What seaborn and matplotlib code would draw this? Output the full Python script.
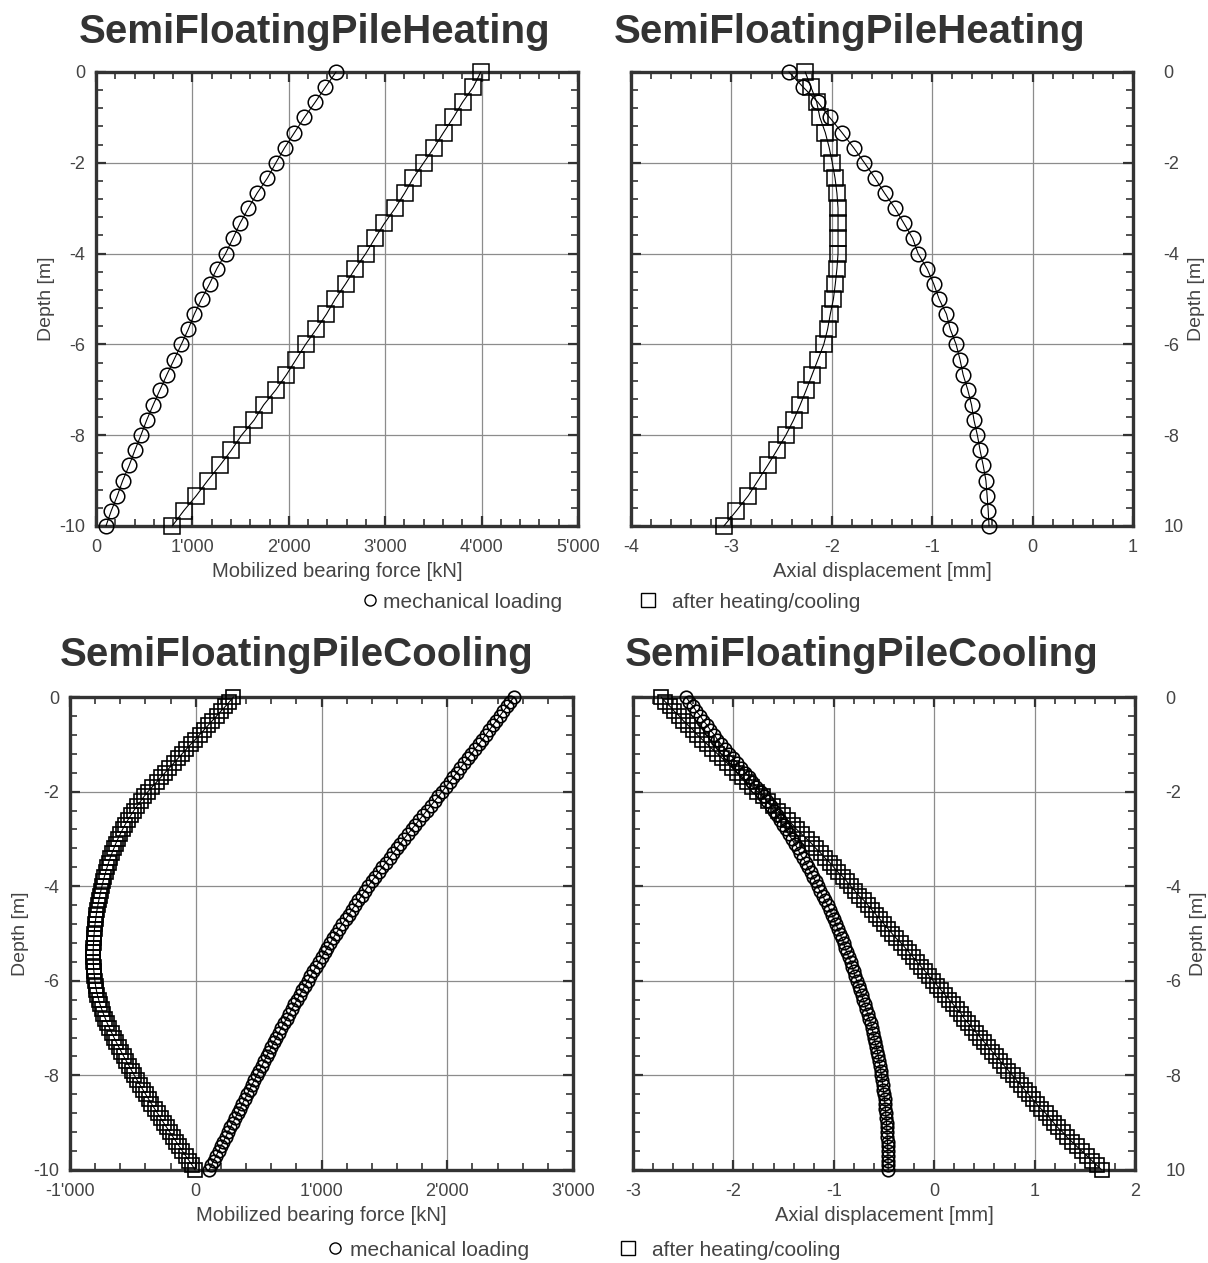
import numpy as np
import matplotlib
matplotlib.use("Agg")
import matplotlib.pyplot as plt
import seaborn as sns
from matplotlib.lines import Line2D
from matplotlib.ticker import MultipleLocator, FuncFormatter, FixedLocator, FixedFormatter

sns.set_style("white")
plt.rcParams['font.family'] = ['Liberation Sans', 'DejaVu Sans']
plt.rcParams['axes.unicode_minus'] = False

# ---- data -------------------------------------------------------------
depth_coarse = np.linspace(0, -10, 31)
depth_fine = np.linspace(0, -10, 101)

heat_force_mech = [2490, 2380, 2273, 2162, 2059, 1957, 1866, 1779, 1672, 1581, 1494,
                   1420, 1344, 1253, 1178, 1095, 1020, 957, 885, 810, 735,
                   664, 593, 526, 466, 403, 344, 277, 221, 158, 103]
heat_force_after = [3992, 3913, 3802, 3708, 3605, 3506, 3399, 3292, 3202, 3103, 2992,
                    2893, 2798, 2688, 2589, 2482, 2391, 2285, 2174, 2075, 1976,
                    1866, 1739, 1640, 1510, 1403, 1285, 1158, 1040, 909, 791]
heat_disp_mech = [-2.427, -2.285, -2.138, -2.022, -1.899, -1.783, -1.675, -1.571, -1.475, -1.371, -1.282,
                  -1.194, -1.140, -1.051, -0.985, -0.931, -0.858, -0.820, -0.762, -0.723, -0.692,
                  -0.646, -0.608, -0.584, -0.550, -0.523, -0.492, -0.465, -0.453, -0.442, -0.434]
heat_disp_after = [-2.265, -2.207, -2.150, -2.119, -2.065, -2.026, -1.995, -1.968, -1.949, -1.938, -1.938,
                   -1.938, -1.938, -1.949, -1.965, -1.984, -2.015, -2.042, -2.080, -2.138, -2.196,
                   -2.254, -2.315, -2.381, -2.458, -2.547, -2.639, -2.736, -2.832, -2.951, -3.075]

cool_force_mech = [2530, 2502, 2474, 2446, 2418, 2390, 2362, 2334, 2306, 2278,
                   2250, 2221, 2192, 2163, 2134, 2105, 2076, 2047, 2018, 1989,
                   1960, 1930, 1899, 1869, 1838, 1808, 1777, 1747, 1716, 1686,
                   1655, 1626, 1598, 1569, 1541, 1512, 1484, 1455, 1427, 1398,
                   1370, 1344, 1319, 1293, 1268, 1242, 1217, 1191, 1166, 1140,
                   1115, 1092, 1070, 1047, 1025, 1002, 980, 957, 935, 912,
                   890, 869, 848, 827, 806, 785, 764, 743, 722, 701,
                   680, 660, 641, 621, 602, 582, 563, 543, 524, 504,
                   485, 466, 447, 428, 409, 390, 371, 352, 333, 314,
                   295, 276, 257, 238, 219, 200, 181, 162, 143, 124, 105]
cool_force_after = [300, 268, 235, 200, 166, 132, 98, 64, 30, -4,
                    -40, -74, -108, -142, -176, -210, -244, -278, -312, -346,
                    -380, -410, -438, -466, -492, -516, -540, -562, -582, -601,
                    -619, -636, -651, -666, -680, -693, -705, -716, -727, -737,
                    -746, -755, -763, -771, -778, -785, -791, -796, -801, -805,
                    -808, -811, -813, -815, -816, -816, -815, -813, -810, -806,
                    -802, -797, -790, -782, -772, -761, -748, -734, -719, -703,
                    -686, -668, -650, -631, -612, -592, -572, -551, -530, -509,
                    -488, -466, -444, -421, -398, -375, -352, -328, -304, -280,
                    -256, -231, -206, -181, -156, -131, -106, -80, -54, -28, -5]
cool_disp_mech = [-2.47, -2.44, -2.40, -2.37, -2.33, -2.30, -2.26, -2.23, -2.19, -2.16,
                  -2.12, -2.08, -2.04, -2.00, -1.96, -1.92, -1.88, -1.84, -1.81, -1.77,
                  -1.73, -1.70, -1.67, -1.63, -1.60, -1.57, -1.54, -1.51, -1.48, -1.45,
                  -1.42, -1.39, -1.36, -1.34, -1.31, -1.28, -1.26, -1.23, -1.21, -1.18,
                  -1.16, -1.14, -1.11, -1.09, -1.06, -1.04, -1.02, -1.00, -0.98, -0.96,
                  -0.94, -0.92, -0.90, -0.89, -0.87, -0.85, -0.83, -0.82, -0.80, -0.79,
                  -0.77, -0.75, -0.74, -0.72, -0.71, -0.69, -0.68, -0.66, -0.65, -0.63,
                  -0.62, -0.61, -0.60, -0.59, -0.575, -0.565, -0.557, -0.549, -0.541, -0.533,
                  -0.525, -0.519, -0.513, -0.507, -0.501, -0.495, -0.491, -0.487, -0.483, -0.479,
                  -0.475, -0.473, -0.470, -0.468, -0.465, -0.463, -0.462, -0.461, -0.460, -0.459, -0.458]
cool_disp_after = [-2.72, -2.68, -2.63, -2.59, -2.54, -2.50, -2.45, -2.40, -2.36, -2.31,
                   -2.26, -2.21, -2.16, -2.11, -2.06, -2.01, -1.96, -1.91, -1.86, -1.81,
                   -1.76, -1.71, -1.66, -1.61, -1.56, -1.51, -1.46, -1.41, -1.37, -1.32,
                   -1.27, -1.22, -1.18, -1.13, -1.09, -1.04, -1.00, -0.96, -0.91, -0.87,
                   -0.83, -0.79, -0.75, -0.70, -0.66, -0.62, -0.58, -0.54, -0.50, -0.46,
                   -0.42, -0.38, -0.33, -0.29, -0.25, -0.21, -0.17, -0.13, -0.09, -0.05,
                   -0.01, 0.03, 0.07, 0.11, 0.15, 0.19, 0.23, 0.27, 0.30, 0.34,
                   0.38, 0.42, 0.46, 0.50, 0.54, 0.58, 0.62, 0.66, 0.70, 0.74,
                   0.78, 0.82, 0.86, 0.90, 0.94, 0.98, 1.02, 1.06, 1.11, 1.15,
                   1.19, 1.23, 1.28, 1.32, 1.37, 1.42, 1.47, 1.52, 1.57, 1.62, 1.67]

titles = ["SemiFloatingPileHeating", "SemiFloatingPileHeating",
          "SemiFloatingPileCooling", "SemiFloatingPileCooling"]
right_ylabels = ['0', '-2', '-4', '-6', '-8', '10']
legend_labels = ['mechanical loading', 'after heating/cooling']

# ---- figure -----------------------------------------------------------
W, H = 1208, 1263
fig = plt.figure(figsize=(W / 100, H / 100), dpi=100)
DARK = '#333333'
TXT = '#444444'


def px_axes(l, t, r, b):
    return fig.add_axes([l / W, 1 - b / H, (r - l) / W, (b - t) / H])


def thousands(v, pos):
    return f"{int(round(v)):,}".replace(',', "'")


def style_axes(ax, xlim, xmajor, xminor, right=False, fmt=None):
    ax.set_xlim(*xlim)
    ax.set_ylim(-10, 0)
    ax.xaxis.set_major_locator(MultipleLocator(xmajor))
    ax.xaxis.set_minor_locator(MultipleLocator(xminor))
    ax.yaxis.set_major_locator(FixedLocator([0, -2, -4, -6, -8, -10]))
    ax.yaxis.set_minor_locator(MultipleLocator(0.4))
    if fmt is not None:
        ax.xaxis.set_major_formatter(FuncFormatter(fmt))
    ax.grid(True, which='major', color='#8c8c8c', lw=0.9)
    ax.set_axisbelow(True)
    for s in ax.spines.values():
        s.set_color(DARK)
        s.set_linewidth(2.4)
        s.set_visible(True)
    ax.tick_params(which='both', direction='in', top=True, bottom=True,
                   left=True, right=True, color=DARK, labelcolor=TXT, labelsize=13)
    ax.tick_params(which='major', length=7, width=1.6)
    ax.tick_params(which='minor', length=5, width=1.2)
    ax.tick_params(axis='x', pad=9)
    if right:
        ax.tick_params(axis='y', labelleft=False, labelright=True, pad=22)
        ax.yaxis.set_major_formatter(FixedFormatter(right_ylabels))
        ax.yaxis.set_label_position('right')
    else:
        ax.tick_params(axis='y', pad=8)
    ax.set_ylabel('Depth [m]', fontsize=14, color=TXT, labelpad=3)


def draw(ax, x, y, marker, ms, mew=1.1):
    sns.lineplot(x=x, y=y, ax=ax, sort=False, estimator=None, color='black', lw=0.8,
                 marker=marker, ms=ms, mfc='none', mec='black', mew=mew,
                 clip_on=False, zorder=3)


ax1 = px_axes(96, 72, 578, 526)
draw(ax1, heat_force_mech, depth_coarse, 'o', 10.5)
draw(ax1, heat_force_after, depth_coarse, 's', 11)
style_axes(ax1, (0, 5000), 1000, 200, fmt=thousands)
ax1.set_xlabel('Mobilized bearing force [kN]', fontsize=14.5, color=TXT, labelpad=5)

ax2 = px_axes(631, 72, 1133, 526)
draw(ax2, heat_disp_mech, depth_coarse, 'o', 10.5)
draw(ax2, heat_disp_after, depth_coarse, 's', 11)
style_axes(ax2, (-4, 1), 1, 0.2, right=True, fmt=lambda v, p: f"{v:g}")
ax2.set_xlabel('Axial displacement [mm]', fontsize=14.5, color=TXT, labelpad=5)

ax3 = px_axes(70, 697, 573, 1170)
draw(ax3, cool_force_after, depth_fine, 's', 10, 1.2)
draw(ax3, cool_force_mech, depth_fine, 'o', 9, 1.2)
style_axes(ax3, (-1000, 3000), 1000, 200, fmt=thousands)
ax3.set_xlabel('Mobilized bearing force [kN]', fontsize=14.5, color=TXT, labelpad=5)

ax4 = px_axes(633, 697, 1135, 1170)
draw(ax4, cool_disp_mech, depth_fine, 'o', 9, 1.2)
draw(ax4, cool_disp_after, depth_fine, 's', 10, 1.2)
style_axes(ax4, (-3, 2), 1, 0.2, right=True, fmt=lambda v, p: f"{v:g}")
ax4.set_xlabel('Axial displacement [mm]', fontsize=14.5, color=TXT, labelpad=5)

# titles
for (xc, yc), t in zip([(315, 32), (850, 32), (297, 655), (862, 655)], titles):
    fig.text(xc / W, 1 - yc / H, t, ha='center', va='center', fontsize=29,
             fontweight='bold', color=DARK)

# legends, one entry each so they can sit where the reference has them
circle = Line2D([], [], ls='none', marker='o', ms=8, mfc='none', mec='black', mew=1)
square = Line2D([], [], ls='none', marker='s', ms=10, mfc='none', mec='black', mew=1)
for handle, label, x0, yc, pad in [(circle, legend_labels[0], 362, 602, 0.2),
                                   (square, legend_labels[1], 640, 602, 0.75),
                                   (circle, legend_labels[0], 327, 1250, 0.3),
                                   (square, legend_labels[1], 620, 1250, 0.75)]:
    fig.legend([handle], [label], loc='center left', bbox_to_anchor=(x0 / W, 1 - yc / H),
               frameon=False, fontsize=15, handlelength=0.8, handletextpad=pad,
               labelcolor=TXT, borderpad=0, borderaxespad=0)

fig.savefig('out.png', dpi=100, facecolor='white')
